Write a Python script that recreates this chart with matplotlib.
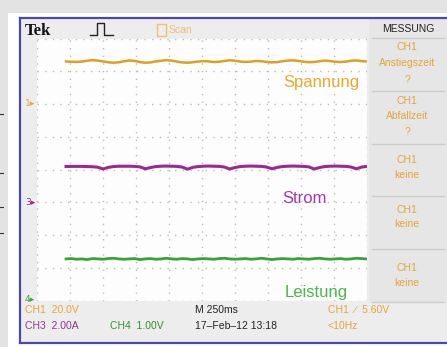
import numpy as np
import matplotlib.pyplot as plt
from matplotlib.patches import Rectangle

# scope samples: time in ms (250 ms/div, 10 div)
t_ms = [220, 260, 300, 340, 380, 420, 460, 500, 540, 580, 620, 660, 700, 740, 780,
        820, 860, 900, 940, 980, 1020, 1060, 1100, 1140, 1180, 1220, 1260, 1300, 1340,
        1380, 1420, 1460, 1500, 1540, 1580, 1620, 1660, 1700, 1740, 1780, 1820, 1860,
        1900, 1940, 1980, 2020, 2060, 2100, 2140, 2180, 2220, 2260, 2300, 2340, 2380,
        2420, 2460, 2490]

# CH1 Spannung (V), 20 V/div, ground marker at +2 div
spannung = [26.0, 25.8, 25.7, 25.9, 26.4, 26.8, 26.5, 26.0, 25.5, 25.2, 25.5, 26.1,
            26.6, 26.3, 25.6, 25.2, 25.4, 26.0, 26.4, 26.8, 26.5, 25.9, 25.4, 25.2,
            25.5, 25.9, 26.2, 26.0, 25.6, 25.8, 26.3, 26.7, 26.4, 25.9, 25.7, 25.9,
            26.3, 26.1, 25.7, 25.4, 25.6, 26.1, 26.5, 26.7, 26.3, 25.8, 25.5, 25.7,
            26.1, 26.5, 26.2, 25.8, 25.6, 25.9, 26.4, 26.6, 26.2, 26.0]

# CH3 Strom (A), 2 A/div, ground marker at -1 div
strom = [2.18, 2.19, 2.19, 2.19, 2.18, 2.17, 2.14, 2.03, 2.13, 2.18, 2.20, 2.20,
         2.20, 2.19, 2.16, 2.04, 2.12, 2.18, 2.20, 2.21, 2.20, 2.19, 2.15, 2.02,
         2.13, 2.18, 2.20, 2.21, 2.20, 2.19, 2.15, 2.03, 2.12, 2.18, 2.20, 2.21,
         2.20, 2.19, 2.15, 2.04, 2.13, 2.18, 2.20, 2.21, 2.20, 2.19, 2.16, 2.03,
         2.12, 2.18, 2.20, 2.21, 2.20, 2.19, 2.15, 2.04, 2.15, 2.18]

# CH4 Leistung (V), 1 V/div, ground marker at -4 div
leistung = [1.27, 1.28, 1.26, 1.27, 1.25, 1.28, 1.27, 1.26, 1.28, 1.29, 1.27, 1.26,
            1.27, 1.28, 1.25, 1.27, 1.28, 1.26, 1.27, 1.29, 1.27, 1.26, 1.28, 1.27,
            1.25, 1.27, 1.28, 1.27, 1.26, 1.28, 1.29, 1.27, 1.26, 1.27, 1.28, 1.26,
            1.27, 1.29, 1.27, 1.25, 1.27, 1.28, 1.27, 1.26, 1.28, 1.27, 1.26, 1.28,
            1.29, 1.27, 1.26, 1.27, 1.28, 1.26, 1.27, 1.29, 1.28, 1.27]

ch1_off, ch1_scale = 2.0, 20.0
ch3_off, ch3_scale = -1.0, 2.0
ch4_off, ch4_scale = -4.0, 1.0

ORANGE = '#e5a43a'
PURPLE = '#9a2a92'
GREEN = '#3aa03a'
BLUE = '#4a48b0'

W, H = 447, 347
fig = plt.figure(figsize=(W / 100, H / 100), dpi=100)
fig.patch.set_facecolor('#e3e3e3')
plt.rcParams['font.family'] = ['Liberation Sans', 'DejaVu Sans']

# background / frame in pixel coords
bg = fig.add_axes([0, 0, 1, 1], zorder=0)
bg.set_xlim(0, W)
bg.set_ylim(H, 0)
bg.axis('off')
bg.add_patch(Rectangle((8, 13), W - 8, H - 13, fc='white', ec='none'))
bg.add_patch(Rectangle((21, 19), W - 21, 324, fc='#ededed', ec='none'))
bg.add_patch(Rectangle((369, 19), W - 369, 283, fc='#e6e6e6', ec='none'))
bg.plot([20, W], [18, 18], color=BLUE, lw=1.6)
bg.plot([20, 20], [18, 343], color=BLUE, lw=1.6)
bg.plot([20, W], [343, 343], color=BLUE, lw=1.6)
for yy in [114, 173, 207, 233]:
    bg.plot([0, 3], [yy, yy], color='#333333', lw=0.8)

# graticule
gx0, gx1, gy0, gy1 = 37, 367, 38.5, 300.5
ax = fig.add_axes([gx0 / W, (H - gy1) / H, (gx1 - gx0) / W, (gy1 - gy0) / H], zorder=1)
ax.set_facecolor('#fdfdfd')
ax.set_xlim(0, 2500)
ax.set_ylim(-4, 4)
ax.set_xticks(np.arange(0, 2501, 250))
ax.set_yticks(np.arange(-4, 5, 1))
ax.grid(True, color='#bbbbbb', lw=1.0, ls=(0, (1, 4.5)))
ax.tick_params(length=0, labelbottom=False, labelleft=False)
for s in ax.spines.values():
    s.set_visible(False)

t = np.array(t_ms)
ax.plot(t, ch1_off + np.array(spannung) / ch1_scale, color='#dfa020', lw=1.8)
ax.plot(t, ch3_off + np.array(strom) / ch3_scale, color=PURPLE, lw=2.2)
ax.plot(t, ch4_off + np.array(leistung) / ch4_scale, color=GREEN, lw=2.0)

# overlay texts in pixel coords
ov = fig.add_axes([0, 0, 1, 1], zorder=2)
ov.set_xlim(0, W)
ov.set_ylim(H, 0)
ov.axis('off')

ov.text(25, 31, 'Tek', family=['Liberation Serif'], fontweight='bold',
        fontsize=12, va='center', color='#111111')
ov.plot([90, 97, 97, 104, 104, 113], [35, 35, 23, 23, 35, 35], color='#222222', lw=1.0)
ov.add_patch(Rectangle((157, 24), 9, 12, fc='none', ec='#f0c070', lw=1.0))
ov.text(169, 30, 'Scan', fontsize=7.5, color='#f0c070', va='center')

ov.text(408, 29, 'MESSUNG', fontsize=7.5, color='#222222', ha='center', va='center')
for yy in [38, 91, 144, 196, 249, 302]:
    ov.plot([372, 444], [yy, yy], color='#cccccc', lw=1.0)
panel = [('CH1', 47), ('Anstiegszeit', 63), ('?', 80),
         ('CH1', 101), ('Abfallzeit', 116), ('?', 132),
         ('CH1', 160), ('keine', 175),
         ('CH1', 210), ('keine', 224),
         ('CH1', 268), ('keine', 283)]
for txt, yy in panel:
    ov.text(407, yy, txt, fontsize=7.5, color=ORANGE, ha='center', va='center')

ov.text(25, 103.5, '1▸', fontsize=6.5, color=ORANGE, va='center', family=['DejaVu Sans'])
ov.text(25, 202, '3▸', fontsize=6.5, color=PURPLE, va='center', family=['DejaVu Sans'])
ov.text(25, 300, '4▸', fontsize=6.5, color=GREEN, va='center', family=['DejaVu Sans'])

ov.text(283, 82, 'Spannung', fontsize=12, color='#e8a830', va='center')
ov.text(282, 198, 'Strom', fontsize=12, color='#a838a8', va='center')
ov.text(285, 292, 'Leistung', fontsize=12, color='#48b848', va='center')

ov.text(25, 310, 'CH1  20.0V', fontsize=7.5, color=ORANGE, va='center')
ov.text(25, 326, 'CH3  2.00A', fontsize=7.5, color='#8a3a8a', va='center')
ov.text(110, 326, 'CH4  1.00V', fontsize=7.5, color='#3a8a3a', va='center')
ov.text(195, 310, 'M 250ms', fontsize=7.5, color='#222222', va='center')
ov.text(195, 326, '17\u2013Feb\u201312 13:18', fontsize=7.5, color='#222222', va='center')
ov.text(328, 310, 'CH1  \u2215  5.60V', fontsize=7.5, color=ORANGE, va='center')
ov.text(328, 326, '<10Hz', fontsize=7.5, color=ORANGE, va='center')

fig.savefig('out.png', dpi=100, facecolor=fig.get_facecolor())
